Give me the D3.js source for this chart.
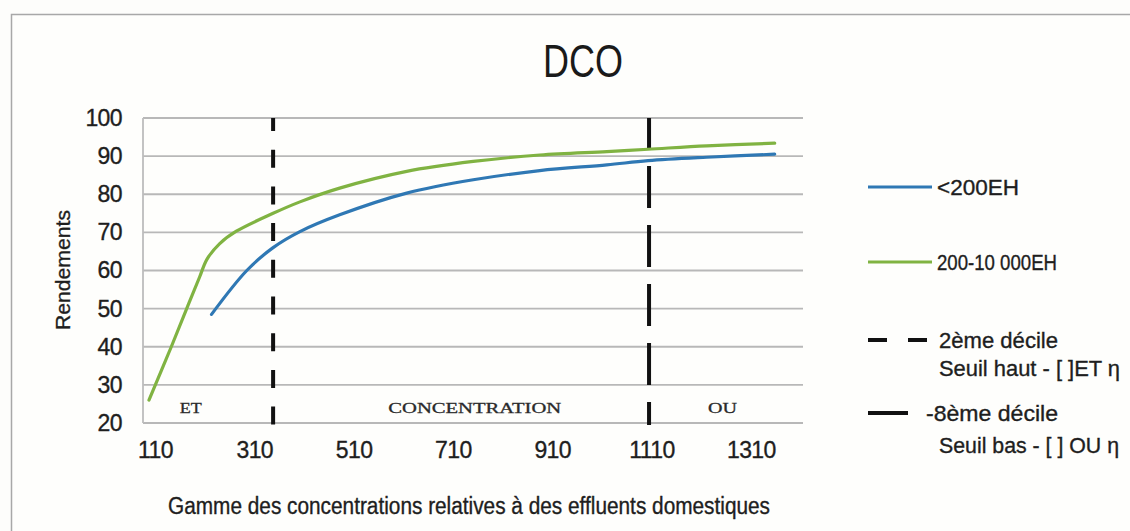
<!DOCTYPE html>
<html><head><meta charset="utf-8">
<script src="https://cdn.jsdelivr.net/npm/d3@7/dist/d3.min.js"></script>
<style>
html,body{margin:0;padding:0;background:#fdfdfb;}
svg{display:block;font-family:"Liberation Sans",Arial,sans-serif;}
</style></head>
<body>
<svg id="c" width="1130" height="531"></svg>
<script>
// ---- data ----
const xTicks = [110, 310, 510, 710, 910, 1110, 1310];
const yTicks = [20, 30, 40, 50, 60, 70, 80, 90, 100];
const greenX = [98, 143, 174, 200, 215, 240, 274, 348, 402, 482, 617, 751, 885, 1020, 1103, 1221, 1358];
const greenY = [26, 40, 50, 58.3, 63, 67, 70.3, 75, 78, 81.6, 86, 88.6, 90.3, 91.2, 91.8, 92.7, 93.4];
const blueX = [224, 295, 348, 402, 482, 617, 751, 885, 1020, 1103, 1221, 1358];
const blueY = [48.5, 60, 66, 70.2, 74.6, 80.3, 83.8, 86.2, 87.7, 88.8, 89.7, 90.5];
const decile2 = 348;
const decile8 = 1105;
const zoneLabels = ["ET", "CONCENTRATION", "OU"];
const zoneX = [182, 754, 1253];
const seriesNames = ["<200EH", "200-10 000EH"];
const title = "DCO";
const yTitle = "Rendements";
const xTitle = "Gamme des concentrations relatives à des effluents domestiques";

const svg = d3.select("#c");
const W = 1130, H = 531;
const ink = "#1e1e1e";
svg.append("rect").attr("x",0).attr("y",0).attr("width",W).attr("height",H).attr("fill","#fdfdfb");
// outer frame
svg.append("rect").attr("x",11.5).attr("y",14.5).attr("width",1140).attr("height",540)
  .attr("fill","#fefefc").attr("stroke","#a8a8a8").attr("stroke-width",1.5);

const L = 143, R = 803, T = 118, B = 423;
const x = d3.scaleLinear().domain([86, 1415]).range([L, R]);
const y = d3.scaleLinear().domain([20, 100]).range([B, T]);

// gridlines
svg.append("g").selectAll("line").data(yTicks).join("line")
  .attr("x1",L).attr("x2",R).attr("y1",d=>y(d)).attr("y2",d=>y(d))
  .attr("stroke","#b8b8b8").attr("stroke-width",1.8);
svg.append("line").attr("x1",L).attr("x2",L).attr("y1",T).attr("y2",B)
  .attr("stroke","#bdbdbd").attr("stroke-width",1.8);

function heavy(sel){ return sel.attr("fill",ink).attr("stroke",ink).attr("stroke-width",0.35); }

// axes labels
const yAxis = d3.axisLeft(y).tickValues(yTicks).tickSize(0).tickPadding(21);
const gy = svg.append("g").attr("transform",`translate(${L},0)`).call(yAxis);
gy.select(".domain").remove();
heavy(gy.selectAll("text").attr("font-size",23).attr("letter-spacing","-0.6")
  .attr("font-family","Liberation Sans, Arial, sans-serif"));

const xAxis = d3.axisBottom(x).tickValues(xTicks).tickSize(0).tickPadding(19).tickFormat(d3.format("d"));
const gx = svg.append("g").attr("transform",`translate(0,${B})`).call(xAxis);
gx.select(".domain").remove();
heavy(gx.selectAll("text").attr("font-size",23).attr("letter-spacing","-0.6")
  .attr("font-family","Liberation Sans, Arial, sans-serif"));

// zone labels
svg.append("g").selectAll("text").data(zoneLabels).join("text")
  .attr("x",(d,i)=>x(zoneX[i])).attr("y",413)
  .attr("text-anchor","middle").attr("font-family","Liberation Serif, Times New Roman, serif")
  .attr("font-size",15).attr("fill","#2a2a2a").attr("stroke","#2a2a2a").attr("stroke-width",0.3)
  .attr("textLength",(d,i)=>[22,173,29][i]).attr("lengthAdjust","spacingAndGlyphs")
  .text(d=>d);

// decile lines
svg.append("line").attr("x1",x(decile2)).attr("x2",x(decile2)).attr("y1",T).attr("y2",B+2)
  .attr("stroke","#111").attr("stroke-width",4).attr("stroke-dasharray","18,18.7").attr("stroke-dashoffset",5);
svg.append("line").attr("x1",x(decile8)).attr("x2",x(decile8)).attr("y1",B+2).attr("y2",T)
  .attr("stroke","#111").attr("stroke-width",4).attr("stroke-dasharray","42,17").attr("stroke-dashoffset",19);

// curves
const line = d3.line().x(d=>x(d[0])).y(d=>y(d[1])).curve(d3.curveCatmullRom.alpha(0.5));
const greenPts = greenX.map((v,i)=>[v, greenY[i]]);
const bluePts = blueX.map((v,i)=>[v, blueY[i]]);
svg.append("path").attr("d",line(greenPts)).attr("fill","none").attr("stroke","#80b342").attr("stroke-width",3.2).attr("stroke-linecap","round");
svg.append("path").attr("d",line(bluePts)).attr("fill","none").attr("stroke","#2f78b4").attr("stroke-width",3.2).attr("stroke-linecap","round");

// title
svg.append("text").attr("x",583).attr("y",77).attr("text-anchor","middle")
  .attr("font-size",46).attr("fill","#1a1a1a").attr("textLength",80).attr("lengthAdjust","spacingAndGlyphs").text(title);

// y title
heavy(svg.append("text").attr("transform","translate(70,270) rotate(-90)").attr("text-anchor","middle")
  .attr("font-size",20).attr("textLength",120).attr("lengthAdjust","spacingAndGlyphs").text(yTitle));

// x title
heavy(svg.append("text").attr("x",469).attr("y",514).attr("text-anchor","middle")
  .attr("font-size",23).attr("textLength",602).attr("lengthAdjust","spacingAndGlyphs").text(xTitle));

// legend
const lg = svg.append("g").attr("font-size",21.5);
const seriesColors = ["#2f78b4", "#80b342"];
const legY = [187, 262];
seriesNames.forEach((n,i)=>{
  lg.append("line").attr("x1",868).attr("x2",932).attr("y1",legY[i]).attr("y2",legY[i])
    .attr("stroke",seriesColors[i]).attr("stroke-width",3.2);
  heavy(lg.append("text").attr("x",937).attr("y",legY[i]).attr("dy","0.35em")
    .attr("textLength",i===0?82:120).attr("lengthAdjust","spacingAndGlyphs").text(n));
});
lg.append("line").attr("x1",868).attr("x2",930).attr("y1",340).attr("y2",340)
  .attr("stroke","#111").attr("stroke-width",4).attr("stroke-dasharray","19,21");
heavy(lg.append("text").attr("x",939).attr("y",340).attr("dy","0.35em").attr("textLength",119).attr("lengthAdjust","spacingAndGlyphs").text("2ème décile"));
heavy(lg.append("text").attr("x",939).attr("y",368).attr("dy","0.35em").attr("textLength",181).attr("lengthAdjust","spacingAndGlyphs").text("Seuil haut - [ ]ET η"));
lg.append("line").attr("x1",868).attr("x2",908).attr("y1",413).attr("y2",413)
  .attr("stroke","#111").attr("stroke-width",4);
heavy(lg.append("text").attr("x",926).attr("y",413).attr("dy","0.35em").attr("textLength",132).attr("lengthAdjust","spacingAndGlyphs").text("-8ème décile"));
heavy(lg.append("text").attr("x",939).attr("y",445).attr("dy","0.35em").attr("textLength",180).attr("lengthAdjust","spacingAndGlyphs").text("Seuil bas - [ ] OU η"));
</script>
</body></html>
